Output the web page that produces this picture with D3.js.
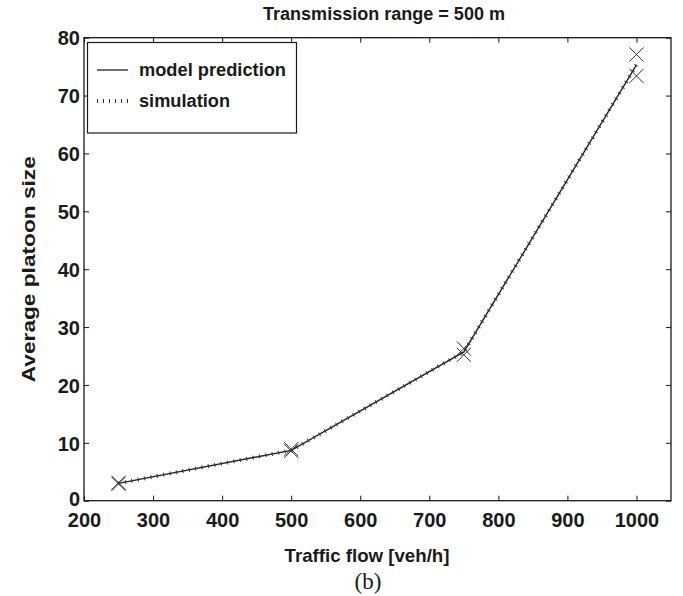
<!DOCTYPE html>
<html>
<head>
<meta charset="utf-8">
<script src="https://cdn.jsdelivr.net/npm/d3@7"></script>
<style>
  html, body { margin: 0; padding: 0; background: #fff; }
  svg { display: block; }
  text { font-family: "Liberation Sans", Arial, Helvetica, sans-serif; fill: #1a1a1a; }
</style>
</head>
<body>
<svg id="chart" width="683" height="596"></svg>
<script>
// Traffic flow (veh/h) at which platoon sizes were evaluated
const flows = [250, 500, 750, 1000];
// Analytical model: average platoon size
const modelPrediction = [3.0, 8.7, 25.7, 75.3];
// Simulated average platoon size
const simulation = [3.0, 8.7, 25.7, 75.3];
// Spread of simulation runs (lower / upper estimates, drawn as crosses)
const simLow = [2.9, 8.6, 25.2, 73.4];
const simHigh = [3.1, 8.9, 26.3, 77.1];

const xTicks = [200, 300, 400, 500, 600, 700, 800, 900, 1000];
const yTicks = [0, 10, 20, 30, 40, 50, 60, 70, 80];
const legendLabels = ["model prediction", "simulation"];

const svg = d3.select("#chart");
const plot = { left: 84, right: 671, top: 37.7, bottom: 500.7 };
const ink = "#1a1a1a";

const x = d3.scaleLinear().domain([200, 1050]).range([plot.left, plot.right]);
const y = d3.scaleLinear().domain([0, 80]).range([plot.bottom, plot.top]);

// Axes with inward ticks on all four sides
const tickLen = 5;
const bottomAxis = d3.axisBottom(x).tickValues(xTicks).tickSize(-tickLen).tickPadding(12).tickFormat(d3.format("d"));
const topAxis = d3.axisTop(x).tickValues(xTicks).tickSize(-tickLen).tickFormat("");
const leftAxis = d3.axisLeft(y).tickValues(yTicks).tickSize(-tickLen).tickPadding(4).tickFormat(d3.format("d"));
const rightAxis = d3.axisRight(y).tickValues(yTicks).tickSize(-tickLen).tickFormat("");

function styleAxis(g) {
  g.select(".domain").remove();
  g.selectAll(".tick line").attr("stroke", ink).attr("stroke-width", 1);
  g.selectAll(".tick text")
    .style("font-family", '"Liberation Sans", Arial, sans-serif')
    .style("font-weight", "bold")
    .style("font-size", "20px")
    .attr("fill", ink);
}

svg.append("g").attr("transform", `translate(0,${plot.bottom})`).call(bottomAxis).call(styleAxis)
  .selectAll(".tick text").attr("dy", "0.71em");
svg.append("g").attr("transform", `translate(0,${plot.top})`).call(topAxis).call(styleAxis);
svg.append("g").attr("transform", `translate(${plot.left},0)`).call(leftAxis).call(styleAxis)
  .selectAll(".tick text").attr("dy", d => d === 0 ? "0.22em" : "0.36em");
svg.append("g").attr("transform", `translate(${plot.right},0)`).call(rightAxis).call(styleAxis);

// Axes box
svg.append("rect")
  .attr("x", plot.left).attr("y", plot.top)
  .attr("width", plot.right - plot.left).attr("height", plot.bottom - plot.top)
  .attr("fill", "none").attr("stroke", ink).attr("stroke-width", 1.3);

const line = d3.line().x((d, i) => x(flows[i])).y(d => y(d));

// Model prediction: solid line
svg.append("path")
  .datum(modelPrediction)
  .attr("d", line)
  .attr("fill", "none")
  .attr("stroke", "#222")
  .attr("stroke-width", 1.4);

// Simulation: dotted line (printed as short cross-strokes)
svg.append("path")
  .datum(simulation)
  .attr("d", line)
  .attr("fill", "none")
  .attr("stroke", "#333")
  .attr("stroke-width", 4)
  .attr("stroke-dasharray", "1,5.5");

// Cross markers at simulated spread
const cross = 7;
function drawCrosses(values) {
  const g = svg.append("g");
  values.forEach((v, i) => {
    const cx = x(flows[i]), cy = y(v);
    g.append("path")
      .attr("d", `M${cx - cross},${cy - cross}L${cx + cross},${cy + cross}M${cx - cross},${cy + cross}L${cx + cross},${cy - cross}`)
      .attr("stroke", "#333").attr("stroke-width", 1).attr("fill", "none");
  });
}
drawCrosses(simLow);
drawCrosses(simHigh);

// Legend
const lg = svg.append("g");
lg.append("rect")
  .attr("x", 87.5).attr("y", 42.5).attr("width", 209).attr("height", 90.5)
  .attr("fill", "#fff").attr("stroke", ink).attr("stroke-width", 1.2);
const legendY = [70, 101];
lg.append("line")
  .attr("x1", 97).attr("x2", 128).attr("y1", legendY[0]).attr("y2", legendY[0])
  .attr("stroke", "#222").attr("stroke-width", 1.3);
lg.append("line")
  .attr("x1", 97).attr("x2", 128).attr("y1", legendY[1]).attr("y2", legendY[1])
  .attr("stroke", "#333").attr("stroke-width", 4).attr("stroke-dasharray", "1,5");
const legendWidths = [147, 91];
legendLabels.forEach((label, i) => {
  lg.append("text")
    .attr("x", 139).attr("y", legendY[i]).attr("dy", "0.36em")
    .attr("textLength", legendWidths[i]).attr("lengthAdjust", "spacingAndGlyphs")
    .style("font-weight", "bold").style("font-size", "18px")
    .text(label);
});

// Title and axis labels
svg.append("text")
  .attr("x", 384).attr("y", 14).attr("dy", "0.36em").attr("text-anchor", "middle")
  .attr("textLength", 242).attr("lengthAdjust", "spacingAndGlyphs")
  .style("font-weight", "bold").style("font-size", "18px")
  .text("Transmission range = 500 m");
svg.append("text")
  .attr("x", 367).attr("y", 555).attr("dy", "0.36em").attr("text-anchor", "middle")
  .attr("textLength", 165).attr("lengthAdjust", "spacingAndGlyphs")
  .style("font-weight", "bold").style("font-size", "19px")
  .text("Traffic flow [veh/h]");
svg.append("text")
  .attr("transform", `translate(28,${(plot.top + plot.bottom) / 2}) rotate(-90)`)
  .attr("dy", "0.36em").attr("text-anchor", "middle")
  .attr("textLength", 226).attr("lengthAdjust", "spacingAndGlyphs")
  .style("font-weight", "bold").style("font-size", "19px")
  .text("Average platoon size");
svg.append("text")
  .attr("x", 368).attr("y", 581).attr("dy", "0.36em").attr("text-anchor", "middle")
  .style("font-family", '"Liberation Serif", "Times New Roman", serif')
  .style("font-size", "23px")
  .text("(b)");
</script>
</body>
</html>
